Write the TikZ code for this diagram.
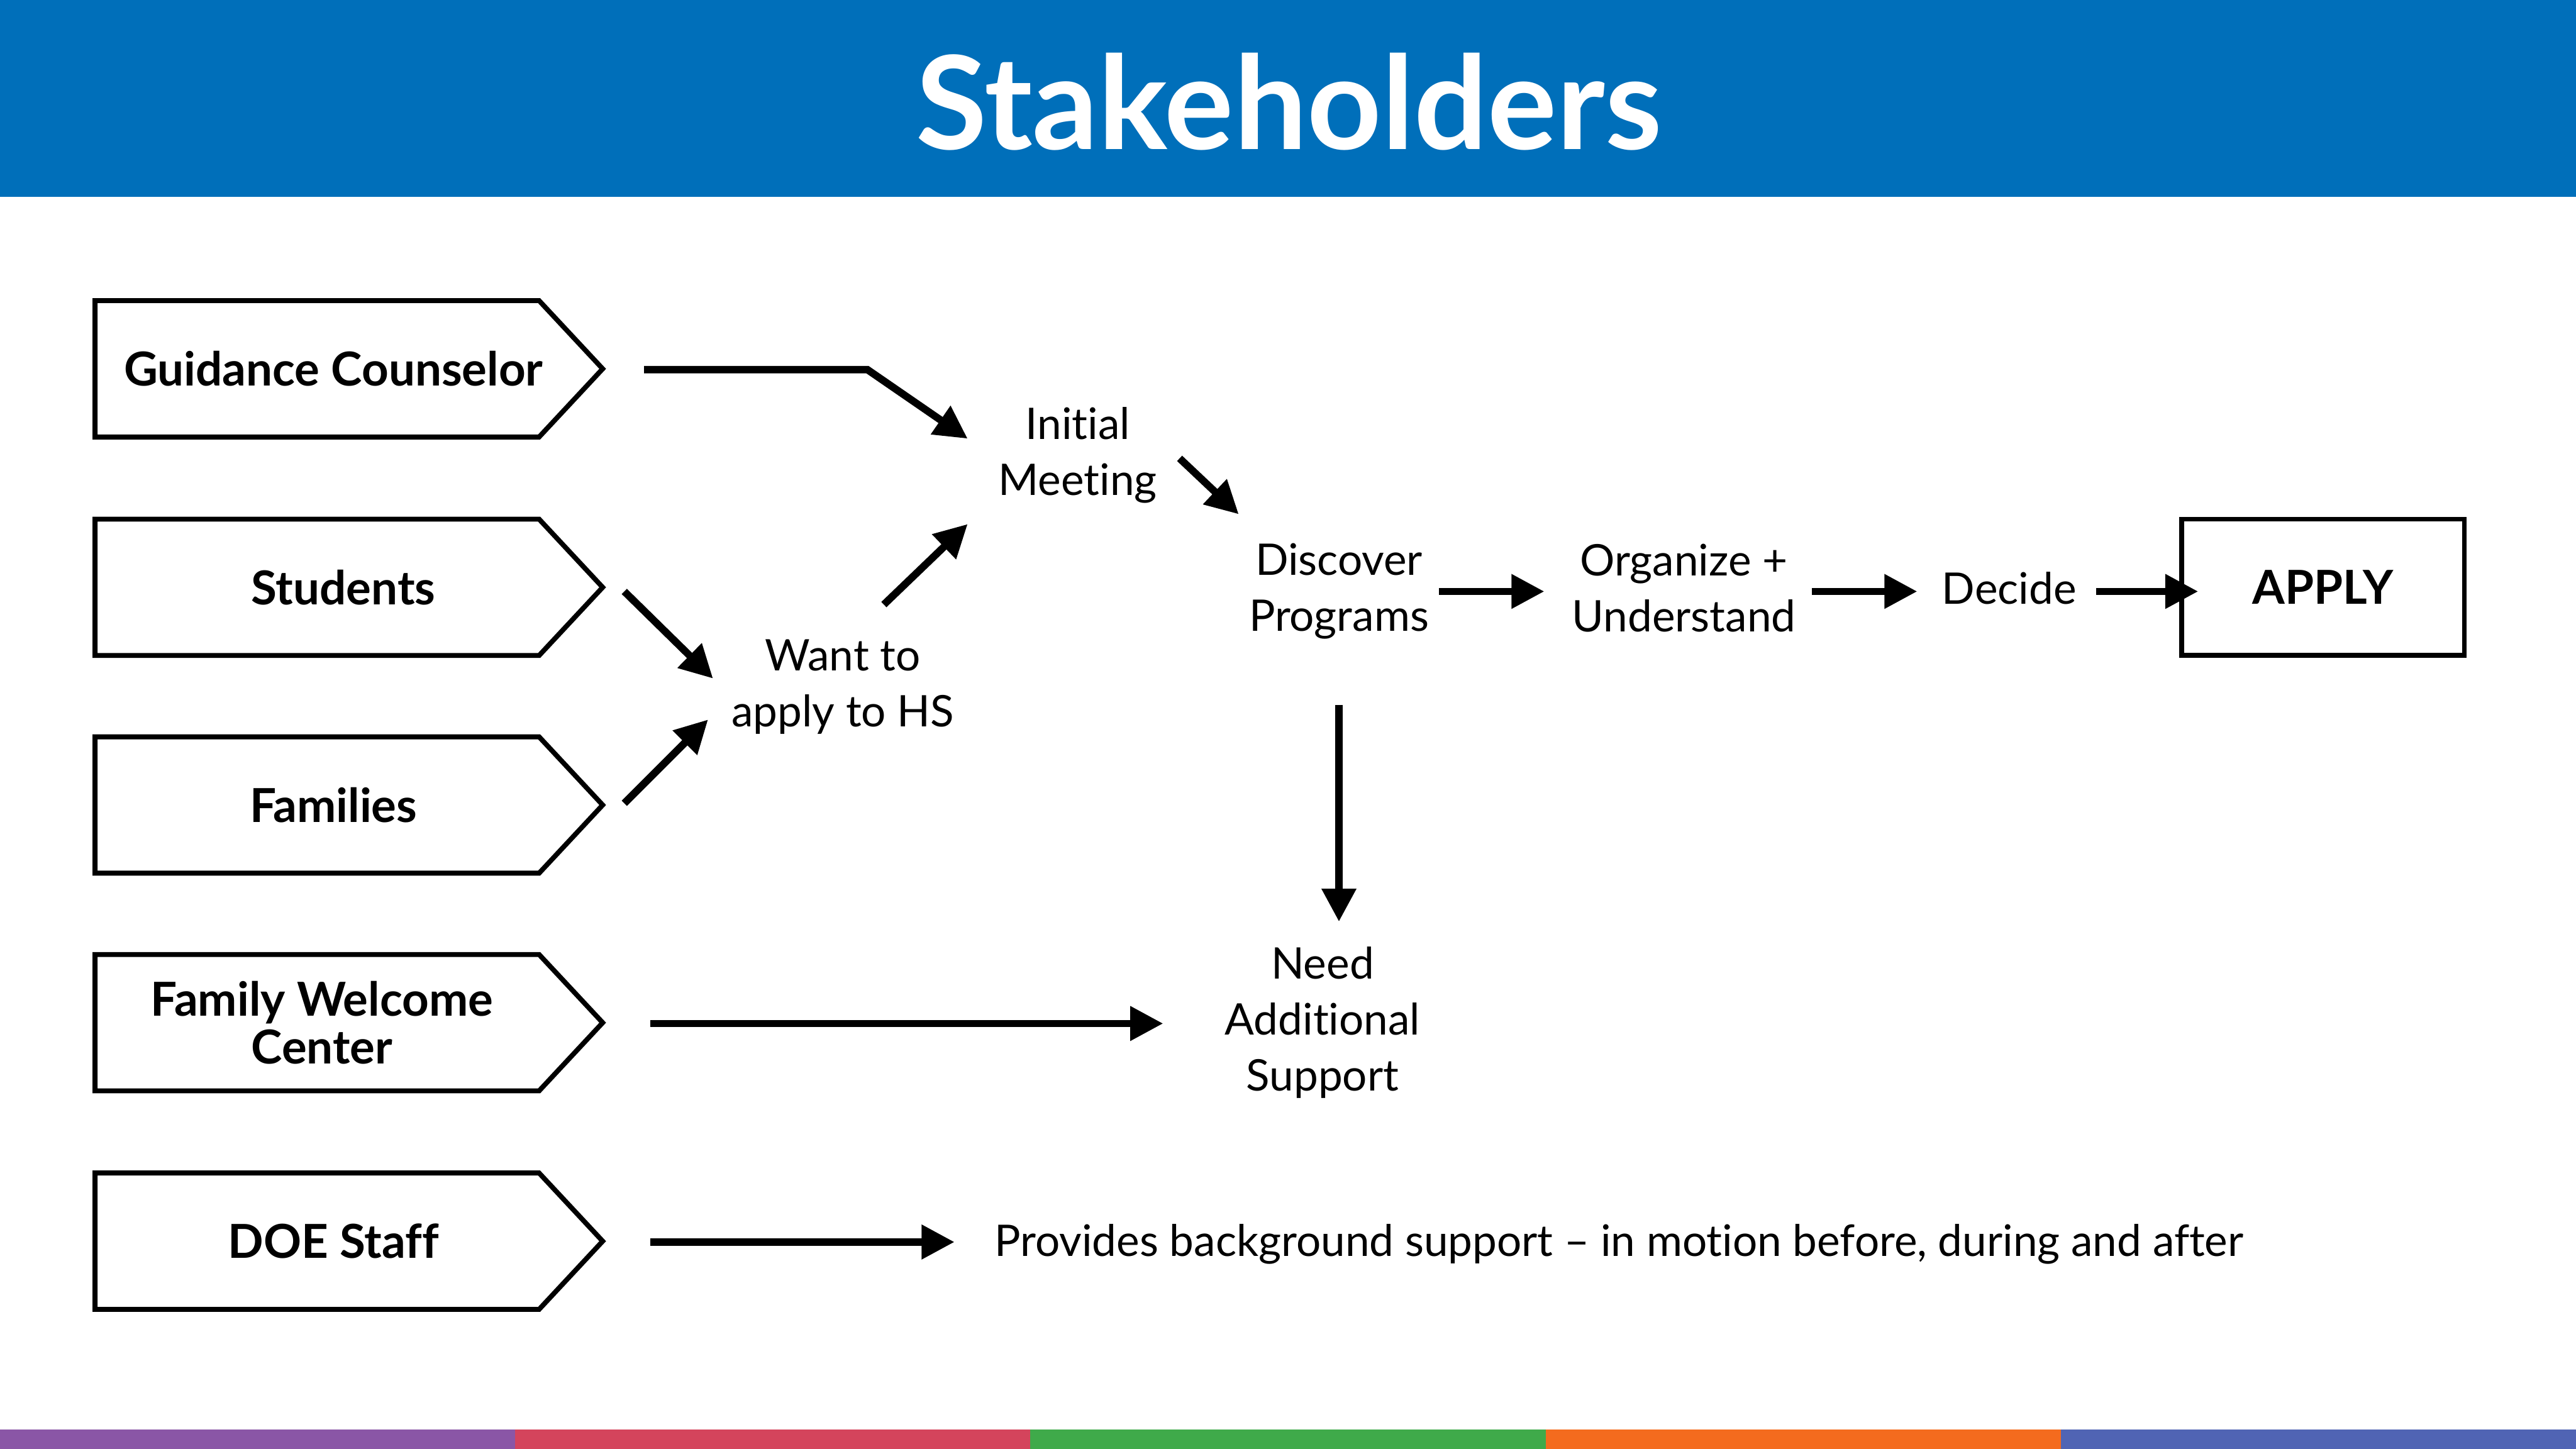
\documentclass[tikz,border=0pt]{standalone}
\usepackage{fontspec}
\setmainfont{Lato}[Ligatures={NoCommon}]
\usetikzlibrary{arrows.meta,shapes.symbols}
\definecolor{hdr}{HTML}{006FBA}
\definecolor{cpurple}{HTML}{8A56A6}
\definecolor{cred}{HTML}{D4445C}
\definecolor{cgreen}{HTML}{3FAA4A}
\definecolor{corange}{HTML}{F46B1E}
\definecolor{cblue}{HTML}{5064B4}
\begin{document}
\begin{tikzpicture}[x=1pt,y=-1pt,
  stake/.style={shape=signal, signal to=east, signal pointer angle=94, draw=black, line width=3pt,
    minimum width=309pt, minimum height=83pt, inner sep=0pt},
  lbl/.style={font=\bfseries\fontsize{28.5}{30}\selectfont, inner sep=0pt, align=center},
  txt/.style={font=\fontsize{26.5}{34}\selectfont, inner sep=0pt, align=center},
  arr/.style={line width=4.5pt, -{Triangle[length=20pt,width=20pt]}},
  applybox/.style={draw=black, line width=3pt, minimum width=172pt, minimum height=83pt, inner sep=0pt,
    font=\bfseries\fontsize{28.5}{30}\selectfont}]
\useasboundingbox (0,0) rectangle (1568,882);
% header
\fill[hdr] (0,0) rectangle (1568,120);
\node[font=\bfseries\fontsize{79}{84}\selectfont, text=white, anchor=base, inner sep=0pt] (title) at (784.5,91) {Stakeholders};
% bottom bar
\fill[cpurple] (0,870) rectangle (313.6,882);
\fill[cred] (313.6,870) rectangle (627.2,882);
\fill[cgreen] (627.2,870) rectangle (940.8,882);
\fill[corange] (940.8,870) rectangle (1254.4,882);
\fill[cblue] (1254.4,870) rectangle (1568,882);
% stakeholders
\node[stake, label={[lbl,xshift=10pt]center:Guidance Counselor}] (gc) at (193,224.5) {};
\node[stake, label={[lbl,xshift=16pt]center:Students}] (st) at (193,357.5) {};
\node[stake, label={[lbl,xshift=10pt]center:Families}] (fa) at (193,490) {};
\node[stake, label={[lbl,xshift=3pt,yshift=0pt]center:{Family Welcome\\[-1pt]Center}}] (fw) at (193,622.5) {};
\node[stake, label={[lbl,xshift=10pt]center:DOE Staff}] (doe) at (193,755.5) {};
% steps
\node[txt] (im) at (656,277) {Initial\\Meeting};
\node[txt] (want) at (513,418) {Want to\\apply to HS};
\node[txt] (disc) at (815,360) {Discover\\Programs};
\node[txt] (org) at (1025,358) {Organize +\\Understand};
\node[txt] (dec) at (1223,358) {Decide};
\node[applybox] (apply) at (1414,357.5) {APPLY};
\node[txt] (need) at (805,622.5) {Need\\Additional\\Support};
\node[txt] (prov) at (985.5,757.5) {Provides background support – in motion before, during and after};
% connectors
\draw[arr] ([shift={(199,0.5)}]gc.center) -- ++(136,0) -- ([shift={(-67,-10)}]im.center);
\draw[arr] ([shift={(62,2)}]im.center) -- ([shift={(-61,-47)}]disc.center);
\draw[arr] ([shift={(25,-50)}]want.center) -- ([shift={(-67,42)}]im.center);
\draw[arr] ([shift={(187,2.5)}]st.center) -- ([shift={(-79,-5)}]want.center);
\draw[arr] ([shift={(187,-1)}]fa.center) -- ([shift={(-82,20)}]want.center);
\draw[arr] ([shift={(61,0)}]disc.center) -- ([shift={(-85,2)}]org.center);
\draw[arr] ([shift={(78,2)}]org.center) -- ([shift={(-56,2)}]dec.center);
\draw[arr] ([shift={(53,2)}]dec.center) -- ([shift={(-76,2.5)}]apply.center);
\draw[arr] ([shift={(0,69)}]disc.center) -- ([shift={(10,-61.5)}]need.center);
\draw[arr] ([shift={(203,0.5)}]fw.center) -- ([shift={(-97,0.5)}]need.center);
\draw[arr] ([shift={(203,0.5)}]doe.center) -- ([shift={(-404.5,-1.5)}]prov.center);
\end{tikzpicture}
\end{document}
